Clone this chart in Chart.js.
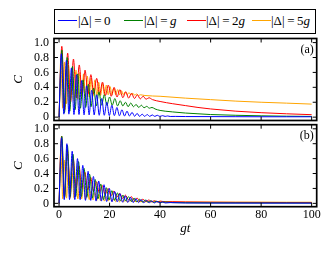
<!DOCTYPE html>
<html><head><meta charset="utf-8">
<script src="https://cdn.jsdelivr.net/npm/chart.js@4"></script>
<style>
body{margin:0;width:331px;height:254px;background:#fff;position:relative;overflow:hidden;font-family:'Liberation Serif',serif;}
canvas{position:absolute;left:0;}
#legend{position:absolute;left:54px;top:9px;width:262px;height:25px;border:1.6px solid #000;box-sizing:border-box;}
.ln{position:absolute;top:10px;height:0;border-top:1.2px solid;width:19px;}
.tx{position:absolute;top:2px;font-size:13px;line-height:17px;color:#000;white-space:nowrap;}
</style></head><body>
<div id="legend"></div>
<canvas id="cA" width="331" height="135" style="top:0"></canvas>
<canvas id="cB" width="331" height="149" style="top:105px"></canvas>
<script>
// ---- data ----
const seriesLabels = ['|Δ|=0', '|Δ|=g', '|Δ|=2g', '|Δ|=5g'];
const seriesColors = ['#0000ff', '#008000', '#ff0000', '#ffa500'];
const xTickVals = [0, 20, 40, 60, 80, 100];
const xTickLabels = ['0', '20', '40', '60', '80', '100'];
const yTickVals = [0, 0.2, 0.4, 0.6, 0.8, 1.0];
const yTickLabels = ['0', '0.2', '0.4', '0.6', '0.8', '1.0'];

// panel (a)
const blueA = [[0,0],[0.9,0.85],[1.9,0.04],[2.9,0.76],[3.9,0.04],[4.9,0.66],[5.9,0.035],[6.9,0.57],[7.9,0.035],[8.9,0.49],[9.9,0.03],[10.9,0.42],[11.9,0.03],[12.9,0.36],[13.9,0.03],[14.9,0.3],[15.9,0.025],[16.9,0.25],[17.9,0.025],[18.9,0.2],[19.9,0.02],[20.9,0.16],[21.9,0.02],[22.9,0.13],[23.9,0.018],[24.9,0.1],[25.9,0.015],[26.9,0.08],[27.9,0.015],[28.9,0.065],[29.9,0.012],[30.9,0.05],[31.9,0.01],[32.9,0.04],[33.9,0.01],[34.9,0.035],[35.9,0.01],[36.9,0.03],[37.9,0.01],[38.9,0.025],[39.9,0.01],[41,0.02],[42,0.01],[43,0.016],[44,0.009],[46,0.01],[50,0.008],[60,0.007],[70,0.006],[80,0.005],[90,0.005],[100,0.005]];
const greenA = [[0,0],[1.1,0.9],[2.15,0.06],[3.2,0.8],[4.25,0.08],[5.3,0.68],[6.35,0.1],[7.4,0.58],[8.45,0.12],[9.5,0.5],[10.55,0.13],[11.6,0.44],[12.65,0.14],[13.7,0.39],[14.75,0.15],[15.8,0.34],[16.85,0.16],[17.9,0.3],[18.95,0.16],[20,0.27],[21.05,0.16],[22.1,0.25],[23.15,0.15],[24.2,0.22],[25.25,0.15],[26.3,0.2],[27.35,0.14],[28.4,0.19],[29.45,0.14],[30.5,0.17],[31.55,0.13],[32.6,0.16],[33.65,0.125],[34.7,0.145],[35.75,0.12],[36.8,0.13],[38,0.11],[40,0.09],[42,0.08],[45,0.07],[50,0.055],[55,0.045],[60,0.035],[70,0.025],[80,0.018],[90,0.013],[100,0.01]];
const redA = [[0,0],[1.1,0.95],[2.25,0.1],[3.4,0.86],[4.55,0.2],[5.7,0.78],[6.85,0.26],[8,0.7],[9.15,0.3],[10.3,0.63],[11.45,0.31],[12.6,0.57],[13.75,0.31],[14.9,0.52],[16.05,0.3],[17.2,0.47],[18.35,0.29],[19.5,0.43],[20.65,0.28],[21.8,0.4],[22.95,0.27],[24.1,0.37],[25.25,0.26],[26.4,0.34],[27.55,0.255],[28.7,0.32],[29.85,0.25],[31,0.3],[32.15,0.245],[33.3,0.28],[34.45,0.24],[35.6,0.26],[37,0.235],[40,0.21],[45,0.18],[50,0.155],[55,0.13],[60,0.11],[70,0.08],[80,0.06],[90,0.045],[100,0.033]];
const orangeA = [[0,0],[0.7,0.78],[1.45,0.12],[2.2,0.74],[2.95,0.18],[3.7,0.7],[4.45,0.2],[5.2,0.66],[5.95,0.22],[6.7,0.63],[7.45,0.24],[8.2,0.6],[8.95,0.25],[9.7,0.58],[10.45,0.26],[11.2,0.55],[11.95,0.27],[12.7,0.52],[13.45,0.28],[14.2,0.5],[14.95,0.29],[15.7,0.47],[16.45,0.29],[17.2,0.45],[17.95,0.3],[18.7,0.43],[19.45,0.3],[20.2,0.41],[20.95,0.3],[21.7,0.39],[22.45,0.3],[23.2,0.37],[23.95,0.3],[24.7,0.355],[25.45,0.3],[26.2,0.34],[26.95,0.3],[27.7,0.33],[28.45,0.3],[29.2,0.32],[29.95,0.295],[30.7,0.31],[31.45,0.29],[32.2,0.3],[34,0.29],[40,0.28],[50,0.255],[60,0.235],[70,0.215],[80,0.2],[90,0.188],[100,0.175]];

// panel (b)
const blueB = [[0,0],[1,0.88],[2.05,0.05],[3.1,0.8],[4.15,0.05],[5.2,0.7],[6.25,0.05],[7.3,0.6],[8.35,0.05],[9.4,0.51],[10.45,0.04],[11.5,0.43],[12.55,0.04],[13.6,0.36],[14.65,0.03],[15.7,0.3],[16.75,0.03],[17.8,0.25],[18.85,0.025],[19.9,0.2],[20.95,0.02],[22,0.16],[23.05,0.02],[24.1,0.13],[25.15,0.015],[26.2,0.1],[27.25,0.012],[28.3,0.08],[29.35,0.01],[30.4,0.065],[31.45,0.01],[32.5,0.05],[33.55,0.008],[34.6,0.04],[35.65,0.008],[36.7,0.03],[37.75,0.006],[38.8,0.025],[40,0.006],[41,0.02],[42,0.005],[44,0.01],[50,0.005],[60,0.004],[80,0.003],[100,0.003]];
const greenB = [[0,0],[1.1,0.9],[2.2,0.08],[3.3,0.78],[4.4,0.09],[5.5,0.66],[6.6,0.09],[7.7,0.56],[8.8,0.09],[9.9,0.47],[11,0.08],[12.1,0.39],[13.2,0.07],[14.3,0.32],[15.4,0.06],[16.5,0.26],[17.6,0.05],[18.7,0.21],[19.8,0.045],[20.9,0.17],[22,0.04],[23.1,0.14],[24.2,0.035],[25.3,0.11],[26.4,0.03],[27.5,0.09],[28.6,0.025],[29.7,0.07],[30.8,0.02],[31.9,0.055],[33,0.018],[34.1,0.045],[35.2,0.015],[36.3,0.035],[37.4,0.013],[38.5,0.028],[40,0.012],[42,0.018],[45,0.01],[50,0.008],[60,0.006],[80,0.005],[100,0.004]];
const redB = [[0,0],[1,0.9],[2.15,0.1],[3.3,0.72],[4.45,0.18],[5.6,0.6],[6.75,0.2],[7.9,0.5],[9.05,0.2],[10.2,0.42],[11.35,0.18],[12.5,0.35],[13.65,0.16],[14.8,0.29],[15.95,0.14],[17.1,0.24],[18.25,0.12],[19.4,0.2],[20.55,0.1],[21.7,0.165],[22.85,0.08],[24,0.135],[25.15,0.065],[26.3,0.11],[27.45,0.05],[28.6,0.09],[29.75,0.04],[30.9,0.07],[32.05,0.032],[33.2,0.055],[34.35,0.026],[35.5,0.045],[36.65,0.022],[37.8,0.036],[38.95,0.02],[40.1,0.03],[42,0.02],[45,0.022],[50,0.018],[60,0.015],[70,0.013],[80,0.012],[90,0.011],[100,0.01]];
const orangeB = [[0,0],[0.7,0.72],[1.45,0.06],[2.2,0.58],[2.95,0.07],[3.7,0.48],[4.45,0.07],[5.2,0.4],[5.95,0.07],[6.7,0.33],[7.45,0.06],[8.2,0.28],[8.95,0.06],[9.7,0.24],[10.45,0.05],[11.2,0.2],[11.95,0.05],[12.7,0.17],[13.45,0.045],[14.2,0.145],[14.95,0.04],[15.7,0.125],[16.45,0.035],[17.2,0.105],[17.95,0.03],[18.7,0.09],[19.45,0.03],[20.2,0.075],[20.95,0.025],[21.7,0.065],[22.45,0.022],[23.2,0.055],[23.95,0.02],[24.7,0.045],[25.45,0.02],[26.2,0.04],[27,0.02],[28,0.035],[30,0.025],[35,0.022],[40,0.02],[50,0.018],[60,0.017],[70,0.016],[80,0.016],[90,0.015],[100,0.015]];

// ---- legend (HTML, real text) ----
const legendHTML = ['|Δ|\u2009=\u20090', '|Δ|\u2009=\u2009<i>g</i>', '|Δ|\u2009=\u20092<i>g</i>', '|Δ|\u2009=\u20095<i>g</i>'];
const legLine = [3, 69, 132, 197];
const legText = [23, 89, 151, 216];
const leg = document.getElementById('legend');
seriesLabels.forEach((lab, i) => {
  const l = document.createElement('div'); l.className = 'ln';
  l.style.left = legLine[i] + 'px'; l.style.borderTopColor = seriesColors[i];
  leg.appendChild(l);
  const t = document.createElement('div'); t.className = 'tx';
  t.style.left = legText[i] + 'px'; t.innerHTML = legendHTML[i];
  leg.appendChild(t);
});

// ---- charts ----
const framePlugin = {
  id: 'frame',
  afterDatasetsDraw(chart) {
    const {ctx, chartArea: a, scales: {x, y}} = chart;
    ctx.save();
    ctx.strokeStyle = '#000';
    ctx.lineWidth = 1;
    const seg = (x1, y1, x2, y2) => { ctx.beginPath(); ctx.moveTo(x1, y1); ctx.lineTo(x2, y2); ctx.stroke(); };
    xTickVals.forEach(v => { const p = x.getPixelForValue(v); seg(p, a.bottom, p, a.bottom - 4); seg(p, a.top, p, a.top + 4); });
    yTickVals.forEach(v => { const p = y.getPixelForValue(v); seg(a.left, p, a.left + 4, p); seg(a.right, p, a.right - 4, p); });
    ctx.lineWidth = 1.7;
    ctx.strokeRect(a.left, a.top, a.right - a.left, a.bottom - a.top);
    ctx.restore();
  }
};

function makeChart(id, series, showX, pad, xAxisH, tag) {
  const labelPlugin = {
    id: 'tag' + id,
    afterDraw(chart) {
      const {ctx, chartArea: a} = chart;
      ctx.save();
      ctx.font = '12px "Liberation Serif"';
      ctx.fillStyle = '#000';
      ctx.textAlign = 'right';
      ctx.textBaseline = 'top';
      ctx.fillText(tag, a.right - 3, a.top + 5);
      ctx.restore();
    }
  };
  return new Chart(document.getElementById(id), {
    type: 'line',
    data: {
      datasets: series.map((s, i) => ({
        label: seriesLabels[i],
        data: s.map(p => ({x: p[0], y: p[1]})),
        borderColor: seriesColors[i],
        borderWidth: 1,
        pointRadius: 0,
        fill: false,
        cubicInterpolationMode: 'monotone'
      }))
    },
    options: {
      responsive: false,
      animation: false,
      devicePixelRatio: 1,
      layout: {padding: pad},
      plugins: {legend: {display: false}, tooltip: {enabled: false}},
      scales: {
        x: {
          type: 'linear', min: -2, max: 102,
          display: showX,
          grid: {display: false, drawTicks: false}, border: {display: false},
          afterBuildTicks: s => { s.ticks = xTickVals.map(v => ({value: v})); },
          afterFit: s => { if (showX) s.height = xAxisH; },
          ticks: {
            padding: 1, color: '#000', maxRotation: 0, autoSkip: false,
            font: {family: 'Liberation Serif', size: 12},
            callback: (v, i) => xTickLabels[i]
          },
          title: {display: showX, text: 'gt', color: '#000',
            font: {family: 'Liberation Serif', size: 13, style: 'italic'},
            padding: {top: 0, bottom: 18}}
        },
        y: {
          type: 'linear', min: -0.045, max: 1.055,
          grid: {display: false, drawTicks: false}, border: {display: false},
          afterBuildTicks: s => { s.ticks = yTickVals.map(v => ({value: v})); },
          afterFit: s => { s.width = 54; },
          ticks: {
            padding: 5, color: '#000', autoSkip: false,
            font: {family: 'Liberation Serif', size: 12},
            callback: (v, i) => yTickLabels[i]
          },
          title: {display: true, text: 'C', color: '#000',
            font: {family: 'Liberation Serif', size: 13, style: 'italic'},
            padding: {top: 11, bottom: 0}}
        }
      }
    },
    plugins: [framePlugin, labelPlugin]
  });
}

makeChart('cA', [blueA, greenA, redA, orangeA], false, {left: 0, top: 38.5, right: 14.3, bottom: 14.5}, 0, '(a)');
makeChart('cB', [blueB, greenB, redB, orangeB], true, {left: 0, top: 19.7, right: 14.3, bottom: 0}, 47.3, '(b)');
</script>
</body></html>
